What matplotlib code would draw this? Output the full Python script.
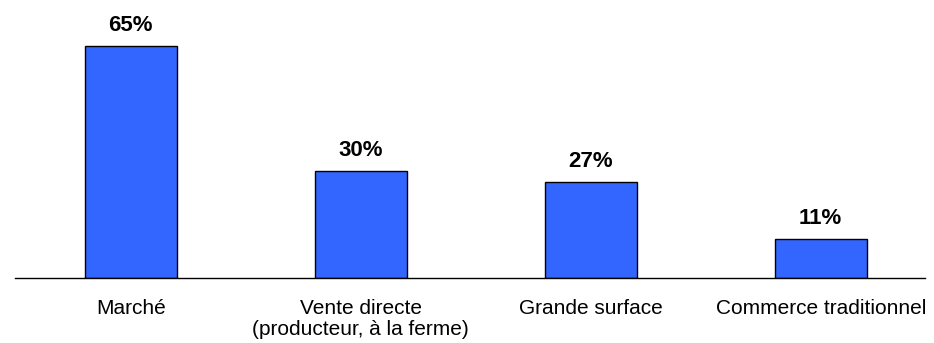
import matplotlib.pyplot as plt

# Données
categories = ["Marché", "Vente directe\n(producteur, à la ferme)", "Grande surface", "Commerce traditionnel"]
valeurs = [65, 30, 27, 11]

plt.rcParams['font.family'] = ['Liberation Sans', 'DejaVu Sans']

fig = plt.figure(figsize=(9.34, 3.43), dpi=100)
ax = fig.add_axes([0.016, 0.1895, 0.974, 0.7805])

x = range(len(categories))
bars = ax.bar(x, valeurs, width=0.4, color='#3366FF', edgecolor='black', linewidth=1.0)

# Étiquettes de valeur au-dessus des barres
for b, v in zip(bars, valeurs):
    ax.annotate(f"{v}%", (b.get_x() + b.get_width() / 2, v), xytext=(0, 7),
                textcoords='offset points', ha='center', va='bottom',
                fontsize=16, fontweight='bold')

ax.set_xlim(-0.504, 3.452)
ax.set_ylim(0, 75)
ax.set_xticks(list(x))
ax.set_xticklabels(categories, fontsize=15, linespacing=1.15)
ax.tick_params(axis='x', length=0, pad=15)
ax.set_yticks([])
for s in ['top', 'right', 'left']:
    ax.spines[s].set_visible(False)
ax.spines['bottom'].set_linewidth(1.0)

plt.savefig("out.png", dpi=100)
